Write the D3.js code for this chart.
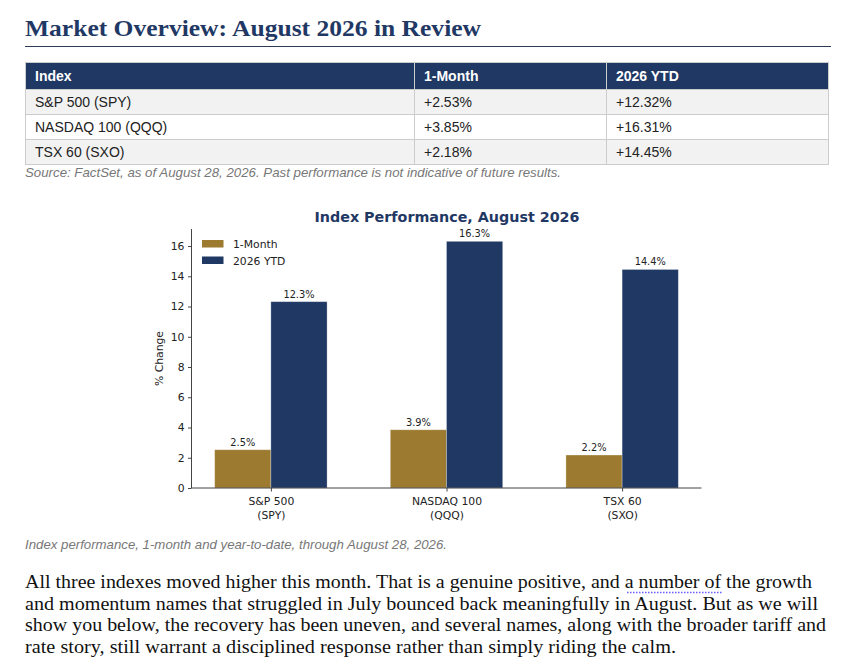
<!DOCTYPE html>
<html>
<head>
<meta charset="utf-8">
<script src="https://cdn.jsdelivr.net/npm/d3@7"></script>
<style>
  html, body { margin: 0; padding: 0; background: #fff; }
  svg { display: block; }
  .serif { font-family: Georgia, "Liberation Serif", "DejaVu Serif", serif; }
  .sans { font-family: Arial, "Liberation Sans", sans-serif; }
  .mpl { font-family: "DejaVu Sans", sans-serif; }
</style>
</head>
<body>
<svg id="page" width="867" height="668"></svg>
<script>
// ---- data ----
const tableHeader = ["Index", "1-Month", "2026 YTD"];
const indexNames = ["S&P 500 (SPY)", "NASDAQ 100 (QQQ)", "TSX 60 (SXO)"];
const monthText = ["+2.53%", "+3.85%", "+2.18%"];
const ytdText = ["+12.32%", "+16.31%", "+14.45%"];

const categories = [["S&P 500", "(SPY)"], ["NASDAQ 100", "(QQQ)"], ["TSX 60", "(SXO)"]];
const seriesNames = ["1-Month", "2026 YTD"];
const monthValues = [2.53, 3.85, 2.18];
const ytdValues = [12.32, 16.31, 14.45];
const yTicks = [0, 2, 4, 6, 8, 10, 12, 14, 16];

const paragraph = [
  "All three indexes moved higher this month. That is a genuine positive, and a number of the growth",
  "and momentum names that struggled in July bounced back meaningfully in August. But as we will",
  "show you below, the recovery has been uneven, and several names, along with the broader tariff and",
  "rate story, still warrant a disciplined response rather than simply riding the calm."
];
const paraWidths = [787, 793, 801, 651];

const navy = "#1f3864";
const gold = "#9c7a2f";

const svg = d3.select("#page");

// ---- heading ----
svg.append("text")
  .attr("class", "serif")
  .attr("x", 25).attr("y", 36)
  .attr("font-size", 23).attr("font-weight", "bold")
  .attr("fill", navy)
  .attr("textLength", 456).attr("lengthAdjust", "spacingAndGlyphs")
  .text("Market Overview: August 2026 in Review");

svg.append("line")
  .attr("x1", 25).attr("x2", 831).attr("y1", 46.5).attr("y2", 46.5)
  .attr("stroke", "#2b3a55").attr("stroke-width", 1.2);

// ---- table ----
const colX = [25, 414, 606, 828];
const rowY = [62, 89, 114, 139, 164];
const rows = indexNames.map((d, i) => [d, monthText[i], ytdText[i]]);
const rowFill = ["#f2f2f2", "#ffffff", "#f2f2f2"];

const table = svg.append("g").attr("class", "sans");
const allRows = [tableHeader].concat(rows);
allRows.forEach((r, ri) => {
  r.forEach((cell, ci) => {
    table.append("rect")
      .attr("x", colX[ci] + 0.5).attr("y", rowY[ri] + 0.5)
      .attr("width", colX[ci + 1] - colX[ci]).attr("height", rowY[ri + 1] - rowY[ri])
      .attr("fill", ri === 0 ? navy : rowFill[ri - 1])
      .attr("stroke", "#cccccc");
    table.append("text")
      .attr("x", colX[ci] + 10)
      .attr("y", (rowY[ri] + rowY[ri + 1]) / 2 + 5)
      .attr("font-size", 14)
      .attr("font-weight", ri === 0 ? "bold" : "normal")
      .attr("fill", ri === 0 ? "#ffffff" : "#222222")
      .text(cell);
  });
});

svg.append("text")
  .attr("class", "sans")
  .attr("x", 25).attr("y", 177)
  .attr("font-size", 13).attr("font-style", "italic")
  .attr("fill", "#777")
  .attr("textLength", 536).attr("lengthAdjust", "spacingAndGlyphs")
  .text("Source: FactSet, as of August 28, 2026. Past performance is not indicative of future results.");

// ---- chart ----
const plot = {left: 191.5, right: 701.5, top: 229, bottom: 488};
const barW = 0.32;

const x = d3.scaleLinear()
  .domain([-barW - 0.05 * (2 + 2 * barW), 2 + barW + 0.05 * (2 + 2 * barW)])
  .range([plot.left, plot.right]);
const y = d3.scaleLinear()
  .domain([0, d3.max(ytdValues) * 1.05])
  .range([plot.bottom, plot.top]);

const chart = svg.append("g").attr("class", "mpl");

chart.append("text")
  .attr("x", (plot.left + plot.right) / 2 + 0.5).attr("y", 222)
  .attr("text-anchor", "middle")
  .attr("font-size", 14.3).attr("font-weight", "bold")
  .attr("fill", navy)
  .text("Index Performance, August 2026");

const series = [
  {name: seriesNames[0], values: monthValues, color: gold, off: -1},
  {name: seriesNames[1], values: ytdValues, color: navy, off: 0}
];

series.forEach(s => {
  const g = chart.append("g");
  g.selectAll("rect")
    .data(s.values)
    .join("rect")
    .attr("x", (d, i) => x(i + s.off * barW))
    .attr("width", x(barW) - x(0))
    .attr("y", d => y(d))
    .attr("height", d => y(0) - y(d))
    .attr("fill", s.color)
    .attr("stroke", "#ffffff").attr("stroke-opacity", 0.35).attr("stroke-width", 0.8);
  g.selectAll("text")
    .data(s.values)
    .join("text")
    .attr("x", (d, i) => x(i + (s.off + 0.5) * barW))
    .attr("y", d => y(d) - 4)
    .attr("text-anchor", "middle")
    .attr("font-size", 9.8)
    .attr("fill", "#222")
    .text(d => d.toFixed(1) + "%");
});

// axes
const yAxis = chart.append("g")
  .attr("transform", `translate(${plot.left},0)`)
  .call(d3.axisLeft(y).tickValues(yTicks).tickSize(3.5).tickPadding(3.5).tickFormat(d3.format("d")));
const xAxis = chart.append("g")
  .attr("transform", `translate(0,${plot.bottom})`)
  .call(d3.axisBottom(x).tickValues([0, 1, 2]).tickSize(3.5).tickFormat(""));

[yAxis, xAxis].forEach(a => {
  a.select(".domain").attr("stroke", "#444").attr("stroke-width", 1);
  a.selectAll(".tick line").attr("stroke", "#444");
  a.selectAll("text").attr("font-family", "DejaVu Sans").attr("font-size", 10.8).attr("fill", "#222");
});
yAxis.select(".domain").attr("d", `M0,${plot.bottom}V${plot.top}`);
xAxis.select(".domain").attr("d", `M${plot.left},0H${plot.right}`);

xAxis.selectAll(".tick").each(function(d) {
  const t = d3.select(this).append("text")
    .attr("text-anchor", "middle")
    .attr("font-family", "DejaVu Sans")
    .attr("font-size", 10.8).attr("fill", "#222");
  categories[d].forEach((line, li) => {
    t.append("tspan").attr("x", 0).attr("y", 17 + li * 13.5).text(line);
  });
});

chart.append("text")
  .attr("transform", `translate(163,${(plot.top + plot.bottom) / 2}) rotate(-90)`)
  .attr("text-anchor", "middle")
  .attr("font-size", 10.8).attr("fill", "#222")
  .text("% Change");

// legend
const legend = chart.append("g").attr("transform", "translate(202,240)");
series.forEach((s, i) => {
  legend.append("rect")
    .attr("x", 0).attr("y", i * 16.5)
    .attr("width", 21.5).attr("height", 7.5)
    .attr("fill", s.color);
  legend.append("text")
    .attr("x", 31).attr("y", i * 16.5 + 8)
    .attr("font-size", 10.8).attr("fill", "#222")
    .text(s.name);
});

// ---- caption ----
svg.append("text")
  .attr("class", "sans")
  .attr("x", 25).attr("y", 549)
  .attr("font-size", 13).attr("font-style", "italic")
  .attr("fill", "#777")
  .attr("textLength", 422).attr("lengthAdjust", "spacingAndGlyphs")
  .text("Index performance, 1-month and year-to-date, through August 28, 2026.");

// ---- body paragraph ----
svg.selectAll("text.para")
  .data(paragraph)
  .join("text")
  .attr("class", "para serif")
  .attr("x", 25)
  .attr("y", (d, i) => 588 + i * 21.5)
  .attr("font-size", 18.5)
  .attr("fill", "#111")
  .attr("textLength", (d, i) => paraWidths[i])
  .attr("lengthAdjust", "spacingAndGlyphs")
  .text(d => d);

svg.append("line")
  .attr("x1", 627).attr("x2", 722).attr("y1", 592.5).attr("y2", 592.5)
  .attr("stroke", "#6b5cff").attr("stroke-width", 1.3)
  .attr("stroke-dasharray", "1.5,1.5");
</script>
</body>
</html>
